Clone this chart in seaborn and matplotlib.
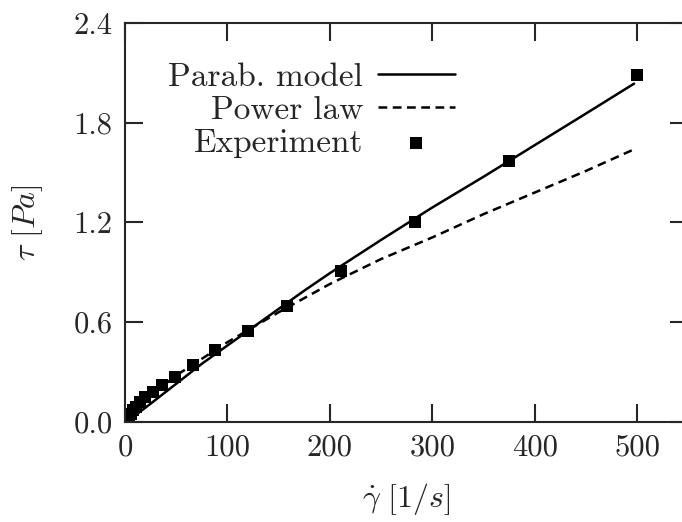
import matplotlib
matplotlib.use("Agg")
import matplotlib.pyplot as plt
import seaborn as sns

# values
shear_rate = [1, 2, 3, 4, 6, 8, 11, 15, 20, 27, 36, 49, 66, 88, 120, 158, 211, 283, 375, 500]
stress_exp = [0.01, 0.02, 0.03, 0.04, 0.05, 0.07, 0.09, 0.12, 0.15, 0.18, 0.22, 0.27,
              0.34, 0.43, 0.55, 0.70, 0.91, 1.20, 1.57, 2.09]

parab_x = [0, 10, 25, 50, 75, 100, 125, 150, 175, 200, 250, 300, 350, 400, 450, 497]
parab_y = [0.0, 0.04, 0.11, 0.23, 0.35, 0.46, 0.57, 0.68, 0.79, 0.895, 1.095, 1.29,
           1.475, 1.665, 1.855, 2.035]
power_x = [0, 5, 10, 25, 50, 75, 100, 150, 200, 250, 300, 350, 400, 450, 497]
power_y = [0.0, 0.05, 0.08, 0.16, 0.28, 0.38, 0.48, 0.66, 0.83, 0.98, 1.11, 1.25,
           1.38, 1.51, 1.64]

x_ticks = [0, 100, 200, 300, 400, 500]
y_ticks = [0.0, 0.6, 1.2, 1.8, 2.4]

sns.set_style("ticks")
plt.rcParams["font.family"] = ["cmr10", "DejaVu Serif"]
plt.rcParams["mathtext.fontset"] = "cm"
plt.rcParams["axes.formatter.use_mathtext"] = True

fig = plt.figure(figsize=(6.82, 5.22), dpi=100)
ax = fig.add_axes([0.1833, 0.1916, 0.826, 0.7644])

sns.lineplot(x=parab_x, y=parab_y, ax=ax, color="black", linewidth=1.8,
             label="Parab. model", sort=False, estimator=None)
sns.lineplot(x=power_x, y=power_y, ax=ax, color="black", linewidth=1.8,
             linestyle=(0, (3.5, 2.2)), label="Power law", sort=False, estimator=None)
sns.scatterplot(x=shear_rate, y=stress_exp, ax=ax, color="black", marker="s",
                s=64, linewidth=0, label="Experiment")

ax.set_xlim(0, 550)
ax.set_ylim(0, 2.4)
ax.set_xticks(x_ticks)
ax.set_xticklabels([str(v) for v in x_ticks])
ax.set_yticks(y_ticks)
ax.set_yticklabels(["{:.1f}".format(v) for v in y_ticks])
ax.tick_params(direction="in", length=13, width=1.5, top=True, right=True,
               labelsize=22, pad=9)
for sp in ax.spines.values():
    sp.set_linewidth(1.5)
    sp.set_visible(True)

ax.set_xlabel(r"$\dot{\gamma}\ [1/s]$", fontsize=23, labelpad=14)
ax.set_ylabel(r"$\tau\ [Pa]$", fontsize=23, labelpad=20)

ax.legend(markerfirst=False, frameon=False, fontsize=24, handlelength=2.3,
          handletextpad=0.45, labelspacing=0.12, scatterpoints=1,
          loc="upper right", bbox_to_anchor=(0.609, 0.935), borderaxespad=0)

fig.savefig("out.png", dpi=100, facecolor="white")
